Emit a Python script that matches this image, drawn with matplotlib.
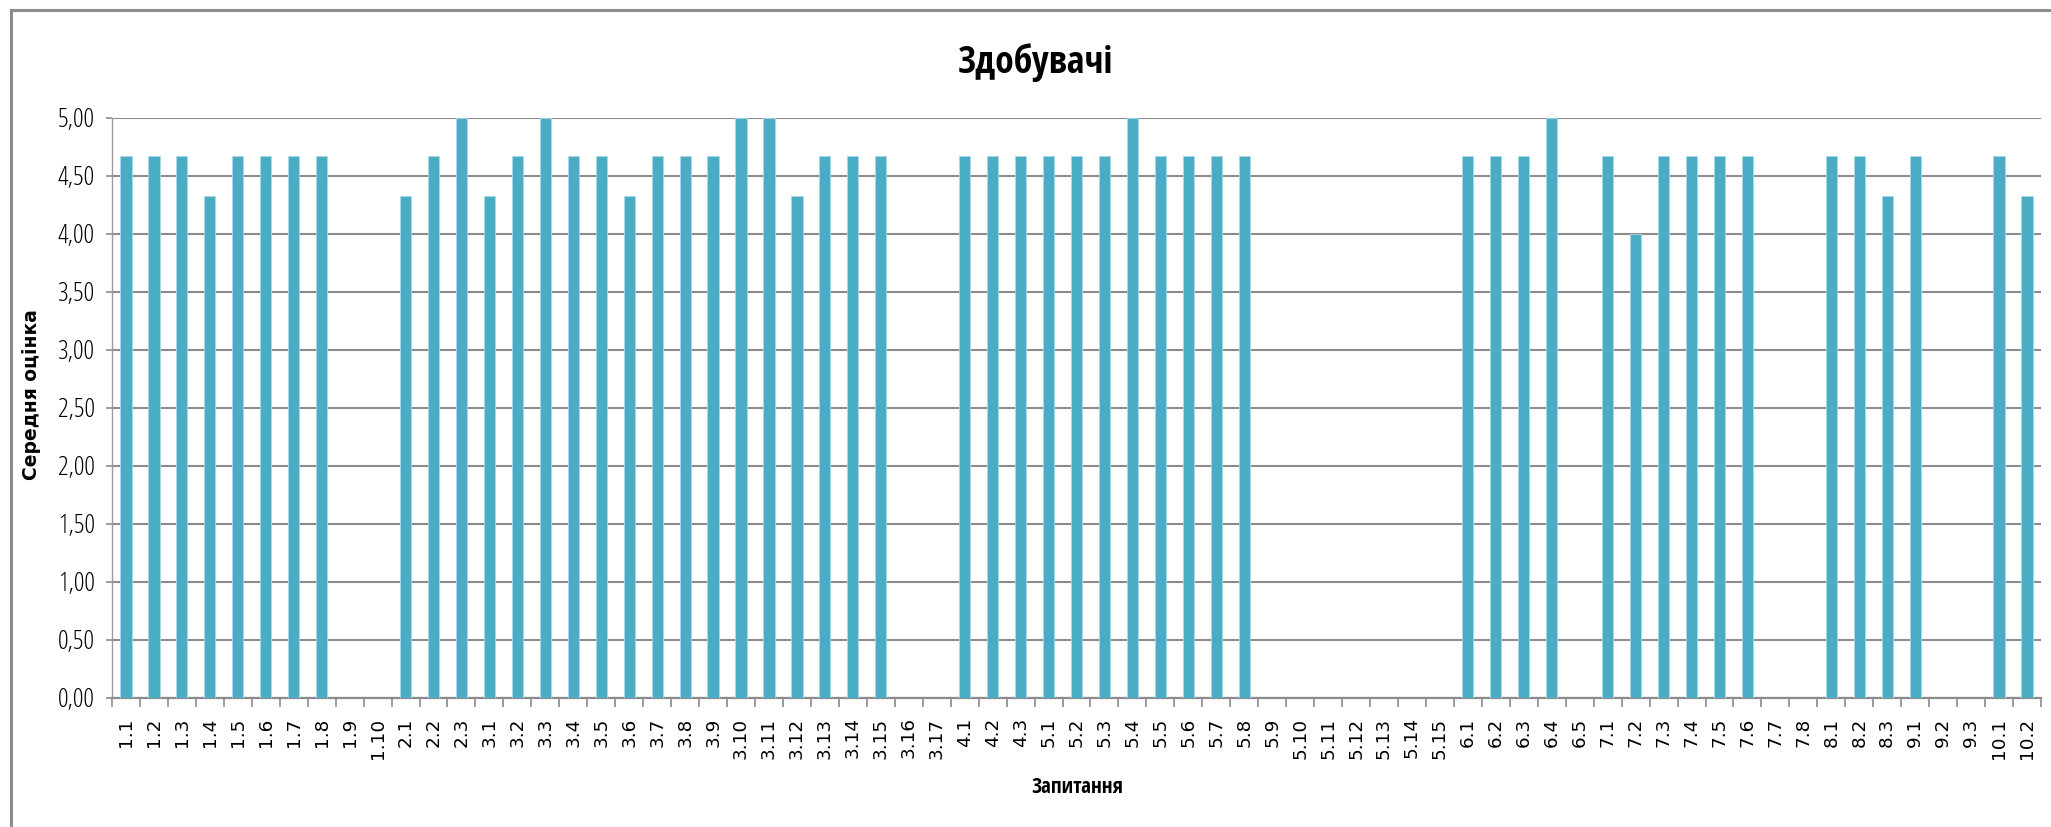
import matplotlib
matplotlib.use("Agg")
import matplotlib.pyplot as plt
import numpy as np
from matplotlib.lines import Line2D

categories = ["1.1", "1.2", "1.3", "1.4", "1.5", "1.6", "1.7", "1.8", "1.9", "1.10",
              "2.1", "2.2", "2.3",
              "3.1", "3.2", "3.3", "3.4", "3.5", "3.6", "3.7", "3.8", "3.9", "3.10",
              "3.11", "3.12", "3.13", "3.14", "3.15", "3.16", "3.17",
              "4.1", "4.2", "4.3",
              "5.1", "5.2", "5.3", "5.4", "5.5", "5.6", "5.7", "5.8", "5.9", "5.10",
              "5.11", "5.12", "5.13", "5.14", "5.15",
              "6.1", "6.2", "6.3", "6.4", "6.5",
              "7.1", "7.2", "7.3", "7.4", "7.5", "7.6", "7.7", "7.8",
              "8.1", "8.2", "8.3",
              "9.1", "9.2", "9.3",
              "10.1", "10.2"]

values = [4.67, 4.67, 4.67, 4.33, 4.67, 4.67, 4.67, 4.67, 0, 0,
          4.33, 4.67, 5.00,
          4.33, 4.67, 5.00, 4.67, 4.67, 4.33, 4.67, 4.67, 4.67, 5.00,
          5.00, 4.33, 4.67, 4.67, 4.67, 0, 0,
          4.67, 4.67, 4.67,
          4.67, 4.67, 4.67, 5.00, 4.67, 4.67, 4.67, 4.67, 0, 0,
          0, 0, 0, 0, 0,
          4.67, 4.67, 4.67, 5.00, 0,
          4.67, 4.00, 4.67, 4.67, 4.67, 4.67, 0, 0,
          4.67, 4.67, 4.33,
          4.67, 0, 0,
          4.67, 4.33]

yticks = [0.0, 0.5, 1.0, 1.5, 2.0, 2.5, 3.0, 3.5, 4.0, 4.5, 5.0]
ytick_labels = ["0,00", "0,50", "1,00", "1,50", "2,00", "2,50", "3,00", "3,50", "4,00", "4,50", "5,00"]

title = "Здобувачі"
xlabel = "Запитання"
ylabel = "Середня оцінка"

W, H = 2051, 827
fig = plt.figure(figsize=(W / 100, H / 100), dpi=100)
fig.patch.set_facecolor("white")

cond_bold = ["Open Sans Condensed", "DejaVu Sans"]
cond_light = ["Open Sans", "DejaVu Sans"]

ax = fig.add_axes([112 / W, 1 - 698 / H, (2041 - 112) / W, (698 - 118) / H])
x = np.arange(len(categories))
ax.bar(x, values, width=0.40, color="#4BACC6", edgecolor="#A9D8E6", linewidth=0.6, zorder=3)

ax.set_xlim(-0.5, len(categories) - 0.5)
ax.set_ylim(0, 5)

ax.set_yticks(yticks)
ax.set_yticklabels(ytick_labels, family=cond_light, fontstretch="condensed",
                   fontweight=300, fontsize=19, color="#000000")
ax.tick_params(axis="y", length=4.5, width=1.2, color="#8c8c8c", pad=8)

ax.set_xticks(x)
ax.set_xticklabels(categories, rotation=90, fontsize=13.2, family="DejaVu Sans", va="top")
ax.tick_params(axis="x", which="major", length=0, pad=14)
ax.set_xticks(np.arange(len(categories) + 1) - 0.5, minor=True)
ax.tick_params(axis="x", which="minor", length=6.5, width=1.2, color="#8c8c8c")

ax.grid(axis="y", color="#8c8c8c", linewidth=1.5, zorder=0)
ax.set_axisbelow(True)
for s in ["top", "right"]:
    ax.spines[s].set_visible(False)
ax.spines["left"].set_color("#9a9a9a")
ax.spines["left"].set_linewidth(1.0)
ax.spines["bottom"].set_color("#8c8c8c")
ax.spines["bottom"].set_linewidth(1.6)

fig.text(1036 / W, 1 - 73 / H, title, ha="center", va="baseline",
         family=cond_bold, fontstretch="condensed", fontsize=27, fontweight="bold")
fig.text(1077 / W, 1 - 793 / H, xlabel, ha="center", va="baseline",
         family=cond_bold, fontstretch="condensed", fontsize=15, fontweight="bold")
fig.text(32 / W, 1 - 395 / H, ylabel, ha="center", va="center", rotation=90,
         family="DejaVu Sans", fontsize=13.5, fontweight="bold")

# outer chart frame (cut off at right and bottom in the reference)
fig.add_artist(Line2D([11 / W, 11 / W], [0, 1 - 10 / H], transform=fig.transFigure,
                      color="#8c8c8c", linewidth=2.2))
fig.add_artist(Line2D([11 / W, 1], [1 - 10 / H, 1 - 10 / H], transform=fig.transFigure,
                      color="#8c8c8c", linewidth=2.2))

fig.savefig("out.png", dpi=100)
